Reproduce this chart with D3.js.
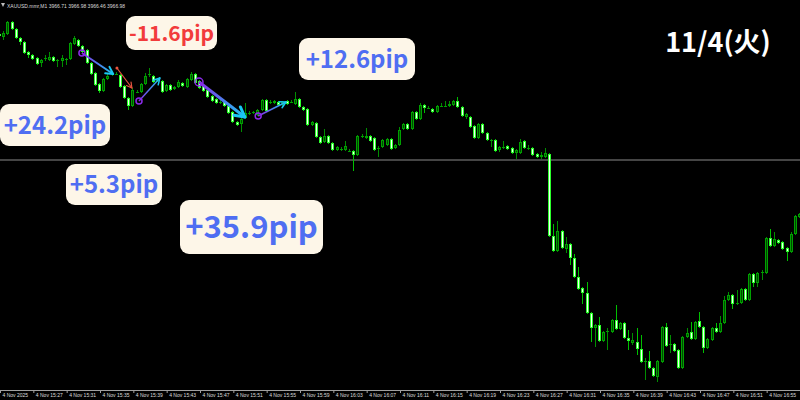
<!DOCTYPE html>
<html>
<head>
<meta charset="utf-8">
<script src="https://cdn.jsdelivr.net/npm/d3@7"></script>
<style>
    html, body { margin: 0; padding: 0; background: #000; overflow: hidden; }
    svg { display: block; }
</style>
</head>
<body>
<div id="chart"></div>
<script>
// XAUUSD 30s bars, 4 Nov
var opens = [
    3986.6, 3986.3, 3986.6, 3987.8, 3987.1, 3986.2, 3985.8, 3984.8, 3984.5, 3984.2,
    3983.7, 3984.1, 3984.0, 3984.3, 3984.0, 3983.9, 3984.1, 3984.1, 3985.6, 3986.0,
    3985.4, 3985.0, 3983.7, 3982.7, 3981.6, 3980.9, 3982.1, 3982.5, 3982.6, 3982.5,
    3981.4, 3980.2, 3979.4, 3980.8, 3980.8, 3981.6, 3982.6, 3982.4, 3982.0, 3981.9,
    3980.9, 3981.5, 3981.1, 3981.3, 3981.7, 3981.3, 3982.0, 3982.6, 3981.9, 3981.4,
    3981.0, 3980.4, 3980.1, 3979.8, 3979.9, 3979.4, 3978.8, 3977.8, 3977.6, 3978.2,
    3978.7, 3978.7, 3978.5, 3979.0, 3980.0, 3979.8, 3979.7, 3979.8, 3979.5, 3979.9,
    3979.8, 3979.6, 3980.1, 3979.3, 3979.1, 3977.5, 3977.7, 3976.3, 3975.8, 3976.4,
    3975.7, 3975.0, 3975.1, 3975.0, 3974.9, 3974.9, 3974.5, 3976.4, 3976.2, 3976.4,
    3976.2, 3975.2, 3975.3, 3975.5, 3976.1, 3975.2, 3975.5, 3977.1, 3977.6, 3977.1,
    3978.8, 3978.1, 3979.5, 3979.2, 3979.1, 3978.8, 3979.4, 3979.4, 3979.4, 3979.5,
    3979.9, 3979.3, 3978.3, 3978.3, 3977.4, 3976.2, 3977.6, 3976.7, 3976.0, 3976.0,
    3975.0, 3975.3, 3975.4, 3975.2, 3974.7, 3974.7, 3975.9, 3975.2, 3975.2, 3974.6,
    3974.3, 3974.3, 3974.6, 3966.4, 3964.9, 3966.9, 3965.1, 3965.6, 3964.2, 3962.3,
    3961.2, 3960.7, 3958.7, 3957.2, 3957.5, 3955.9, 3956.9, 3956.8, 3958.0, 3957.1,
    3957.7, 3956.2, 3955.7, 3955.8, 3955.1, 3953.8, 3953.9, 3953.2, 3952.3, 3953.8,
    3957.3, 3955.5, 3955.6, 3955.0, 3953.2, 3956.3, 3956.8, 3956.1, 3957.9, 3957.3,
    3955.2, 3956.0, 3957.2, 3956.8, 3957.7, 3960.0, 3960.5, 3959.6, 3959.7, 3961.1,
    3960.0, 3962.6, 3961.7, 3962.8, 3962.7, 3966.2, 3965.4, 3966.0, 3965.8, 3965.2,
    3964.8, 3966.6, 3968.3
];
var highs = [
    3986.7, 3986.9, 3987.9, 3987.9, 3987.2, 3986.3, 3985.9, 3984.9, 3984.6, 3984.3,
    3984.1, 3984.5, 3984.8, 3984.4, 3984.1, 3984.5, 3984.2, 3985.8, 3986.4, 3986.1,
    3985.5, 3985.1, 3983.8, 3982.8, 3981.7, 3982.2, 3982.7, 3982.8, 3982.8, 3982.6,
    3981.5, 3980.3, 3981.2, 3981.0, 3981.7, 3982.7, 3983.2, 3982.5, 3982.1, 3982.0,
    3981.6, 3981.6, 3981.4, 3982.0, 3981.8, 3982.2, 3982.8, 3982.7, 3982.0, 3981.5,
    3981.1, 3980.5, 3980.2, 3980.0, 3980.0, 3979.5, 3978.9, 3977.9, 3978.2, 3979.7,
    3978.9, 3978.9, 3979.1, 3980.1, 3980.1, 3980.0, 3980.0, 3979.9, 3979.9, 3980.0,
    3980.0, 3980.8, 3980.2, 3979.4, 3979.2, 3977.9, 3977.8, 3976.4, 3977.1, 3976.5,
    3975.8, 3975.4, 3975.3, 3975.9, 3975.1, 3975.0, 3976.5, 3976.6, 3977.2, 3976.5,
    3976.3, 3975.4, 3976.1, 3976.2, 3976.2, 3975.6, 3977.3, 3977.7, 3977.7, 3978.9,
    3978.9, 3979.7, 3979.6, 3979.4, 3979.2, 3979.5, 3979.7, 3979.9, 3979.9, 3980.0,
    3980.3, 3979.4, 3978.7, 3978.4, 3977.5, 3977.7, 3977.7, 3976.8, 3976.1, 3976.1,
    3975.4, 3975.9, 3975.5, 3975.3, 3975.1, 3976.1, 3976.0, 3975.5, 3975.3, 3974.7,
    3974.8, 3975.2, 3974.7, 3967.6, 3967.9, 3967.0, 3966.3, 3965.7, 3964.6, 3963.3,
    3961.3, 3961.8, 3958.8, 3957.6, 3958.3, 3956.9, 3957.2, 3958.1, 3959.5, 3957.8,
    3957.8, 3957.0, 3956.7, 3957.2, 3956.5, 3954.2, 3954.9, 3953.3, 3954.0, 3957.4,
    3957.7, 3956.5, 3955.7, 3955.1, 3956.4, 3957.2, 3957.8, 3957.9, 3958.8, 3957.4,
    3956.2, 3957.3, 3957.7, 3958.4, 3960.4, 3960.8, 3960.6, 3961.0, 3961.2, 3961.2,
    3962.7, 3962.7, 3962.8, 3963.0, 3966.3, 3967.1, 3966.8, 3966.1, 3965.9, 3965.3,
    3966.8, 3968.5, 3968.7
];
var lows = [
    3986.2, 3986.0, 3986.5, 3987.0, 3986.1, 3985.5, 3984.6, 3984.2, 3984.0, 3983.5,
    3983.3, 3983.9, 3983.9, 3983.8, 3983.3, 3983.3, 3983.5, 3984.0, 3985.5, 3985.3,
    3984.7, 3983.6, 3982.5, 3981.4, 3980.7, 3980.8, 3982.0, 3982.4, 3982.5, 3981.2,
    3980.1, 3979.0, 3979.3, 3980.7, 3980.7, 3981.5, 3982.3, 3981.7, 3981.8, 3980.7,
    3980.8, 3980.9, 3981.0, 3981.2, 3981.3, 3981.2, 3981.9, 3981.6, 3981.1, 3980.8,
    3980.2, 3979.8, 3979.6, 3979.6, 3979.3, 3978.6, 3977.7, 3977.4, 3976.8, 3978.1,
    3978.5, 3978.6, 3978.4, 3978.9, 3978.8, 3979.6, 3979.6, 3979.4, 3979.4, 3979.5,
    3979.7, 3979.5, 3979.2, 3978.9, 3977.4, 3977.4, 3976.2, 3975.6, 3975.7, 3975.6,
    3974.9, 3974.9, 3974.9, 3974.9, 3974.8, 3972.9, 3974.4, 3976.2, 3976.1, 3975.8,
    3974.9, 3974.3, 3975.2, 3975.4, 3975.0, 3975.1, 3975.4, 3977.0, 3977.0, 3977.0,
    3978.0, 3978.0, 3978.7, 3979.1, 3978.7, 3978.7, 3979.3, 3979.3, 3979.3, 3979.4,
    3979.2, 3978.3, 3978.1, 3977.2, 3976.1, 3976.1, 3976.6, 3975.9, 3975.3, 3974.8,
    3974.8, 3975.1, 3975.0, 3974.6, 3974.1, 3974.6, 3975.1, 3975.0, 3974.4, 3974.2,
    3974.1, 3974.2, 3966.3, 3964.8, 3964.8, 3965.1, 3964.7, 3963.5, 3962.2, 3961.0,
    3959.6, 3958.6, 3955.8, 3955.3, 3955.8, 3955.8, 3955.0, 3956.7, 3957.0, 3957.0,
    3956.1, 3955.0, 3955.5, 3954.5, 3953.7, 3952.0, 3953.1, 3952.3, 3951.8, 3953.7,
    3955.3, 3954.7, 3954.8, 3953.1, 3953.1, 3956.2, 3956.0, 3956.0, 3957.2, 3954.7,
    3955.1, 3955.9, 3956.7, 3956.7, 3957.6, 3959.9, 3959.1, 3959.5, 3959.6, 3959.9,
    3959.9, 3961.3, 3961.3, 3962.0, 3962.6, 3965.3, 3965.3, 3965.6, 3965.0, 3963.9,
    3964.7, 3966.5, 3968.2
];
var closes = [
    3986.4, 3986.7, 3987.8, 3987.1, 3986.2, 3985.8, 3984.7, 3984.5, 3984.1, 3983.6,
    3984.0, 3984.2, 3984.3, 3983.9, 3984.0, 3984.2, 3984.1, 3985.7, 3986.2, 3985.4,
    3984.8, 3983.7, 3982.6, 3981.5, 3980.9, 3982.1, 3982.4, 3982.7, 3982.6, 3981.3,
    3980.2, 3979.4, 3981.0, 3980.8, 3981.6, 3982.4, 3982.6, 3981.8, 3982.0, 3980.8,
    3981.5, 3981.0, 3981.3, 3981.8, 3981.4, 3982.1, 3982.6, 3981.7, 3981.2, 3980.9,
    3980.3, 3979.9, 3979.7, 3979.8, 3979.4, 3978.7, 3977.8, 3977.5, 3978.1, 3978.7,
    3978.7, 3978.8, 3979.0, 3980.0, 3978.9, 3979.8, 3979.9, 3979.5, 3979.8, 3979.6,
    3979.8, 3980.1, 3979.3, 3979.0, 3977.5, 3977.8, 3976.3, 3975.7, 3976.4, 3975.7,
    3975.0, 3975.3, 3975.1, 3975.4, 3974.9, 3974.5, 3976.4, 3976.4, 3976.4, 3975.9,
    3975.0, 3975.2, 3976.0, 3976.1, 3975.1, 3975.5, 3977.0, 3977.6, 3977.1, 3978.8,
    3978.1, 3979.5, 3979.2, 3979.2, 3978.8, 3979.4, 3979.4, 3979.4, 3979.6, 3979.9,
    3979.3, 3978.4, 3978.6, 3977.3, 3976.2, 3977.6, 3976.7, 3976.0, 3976.0, 3974.9,
    3975.3, 3975.3, 3975.1, 3974.7, 3975.0, 3975.8, 3975.2, 3975.2, 3974.5, 3974.3,
    3974.5, 3974.7, 3966.4, 3964.9, 3966.9, 3965.2, 3965.6, 3964.2, 3962.3, 3961.1,
    3960.7, 3958.7, 3957.2, 3957.5, 3955.9, 3956.8, 3956.9, 3958.0, 3957.1, 3957.7,
    3956.2, 3955.9, 3956.0, 3955.1, 3953.8, 3953.9, 3953.2, 3952.4, 3953.9, 3957.3,
    3955.4, 3955.6, 3954.9, 3953.2, 3956.3, 3956.7, 3956.1, 3957.8, 3957.3, 3955.2,
    3956.1, 3957.2, 3956.8, 3957.7, 3960.0, 3960.5, 3959.6, 3959.7, 3961.1, 3960.0,
    3962.6, 3961.7, 3962.7, 3962.8, 3966.2, 3965.4, 3966.1, 3965.7, 3965.1, 3964.8,
    3966.6, 3968.4, 3968.6
];

var tickLabels = ["4 Nov 2025", "4 Nov 15:27", "4 Nov 15:31", "4 Nov 15:35", "4 Nov 15:39",
    "4 Nov 15:43", "4 Nov 15:47", "4 Nov 15:51", "4 Nov 15:55", "4 Nov 15:59", "4 Nov 16:03",
    "4 Nov 16:07", "4 Nov 16:11", "4 Nov 16:15", "4 Nov 16:19", "4 Nov 16:23", "4 Nov 16:27",
    "4 Nov 16:31", "4 Nov 16:35", "4 Nov 16:39", "4 Nov 16:43", "4 Nov 16:47", "4 Nov 16:51",
    "4 Nov 16:55"];

var headerText = "XAUUSD.mmr,M1  3966.71 3966.98 3966.46 3966.98";
var priceLine = 3974.0;

// trades: [bar index, price] entry -> exit
var tradeFrom = [[19.9, 3984.7], [28.3, 3983.2], [33.6, 3979.9], [48.0, 3981.8], [62.2, 3978.4]];
var tradeTo = [[27.4, 3982.6], [31.9, 3981.2], [38.6, 3982.2], [59.0, 3978.3], [68.9, 3979.8]];
var tradeLoss = [false, true, false, false, false];

var pipLabels = ["+24.2pip", "-11.6pip", "+5.3pip", "+35.9pip", "+12.6pip"];
var dateLabel = "11/4(火)";

function renderChart() {
    var width = 800,
        height = 400,
        axisY = 390;

    var svg = d3.select("#chart")
        .append("svg")
        .attr("width", width)
        .attr("height", height);

    svg.append("rect")
        .attr("width", width)
        .attr("height", height)
        .attr("fill", "#000");

    var x = d3.scaleLinear().domain([0, 192]).range([-1, 799]);
    var y = d3.scaleLinear().domain([3951, 3990]).range([axisY, 0]);
    var xTime = d3.scaleLinear().domain([0, 24]).range([0, 800]);

    var defs = svg.append("defs");

    // horizontal price line
    svg.append("line")
        .attr("x1", 0)
        .attr("x2", width)
        .attr("y1", Math.round(y(priceLine)))
        .attr("y2", Math.round(y(priceLine)))
        .attr("stroke", "#454545")
        .attr("stroke-width", 2);

    // candles
    var bars = d3.range(opens.length).map(function(i) {
        return { i: i, o: opens[i], h: highs[i], l: lows[i], c: closes[i] };
    });

    var candle = svg.append("g").selectAll("g")
        .data(bars)
        .enter()
        .append("g");

    candle.append("line")
        .attr("x1", function(d) { return Math.round(x(d.i)) + 0.5; })
        .attr("x2", function(d) { return Math.round(x(d.i)) + 0.5; })
        .attr("y1", function(d) { return Math.round(y(d.h)); })
        .attr("y2", function(d) { return Math.round(y(d.l)); })
        .attr("stroke", function(d) { return d.c < d.o ? "#00c000" : "#008e00"; })
        .attr("stroke-width", 1);

    function bodyTop(d) { return Math.round(y(Math.max(d.o, d.c))); }
    function bodyH(d) { return Math.max(1, Math.round(y(Math.min(d.o, d.c))) - bodyTop(d)); }

    candle.append("rect")
        .attr("x", function(d) { return Math.round(x(d.i)) - 1; })
        .attr("y", bodyTop)
        .attr("width", 3)
        .attr("height", bodyH)
        .attr("fill", function(d) { return d.c < d.o ? "#2cff2c" : "#00a000"; });

    candle.filter(function(d) { return bodyH(d) > 2; })
        .append("rect")
        .attr("x", function(d) { return Math.round(x(d.i)); })
        .attr("y", function(d) { return bodyTop(d) + 1; })
        .attr("width", 1)
        .attr("height", function(d) { return bodyH(d) - 2; })
        .attr("fill", function(d) { return d.c < d.o ? "#f2fff2" : "#004800"; });

    // time axis
    var axis = svg.append("g")
        .attr("transform", "translate(0," + axisY + ")")
        .call(d3.axisBottom(xTime)
            .tickValues(d3.range(24))
            .tickFormat(function(i) { return tickLabels[i]; })
            .tickSize(3)
            .tickSizeOuter(0));
    axis.select(".domain").attr("stroke", "#a0a0a0");
    axis.selectAll(".tick line").attr("stroke", "#a0a0a0");
    axis.selectAll(".tick text")
        .attr("fill", "#dcdcdc")
        .attr("x", 2)
        .attr("y", 3)
        .style("text-anchor", "start")
        .style("font-family", "'Liberation Sans', sans-serif")
        .style("font-size", "5px");

    // header
    svg.append("path")
        .attr("d", "M1,3 L5,3 L3,7 Z")
        .attr("fill", "#bbb");
    svg.append("text")
        .attr("x", 7)
        .attr("y", 7.5)
        .attr("fill", "#dcdcdc")
        .style("font-family", "'Liberation Sans', sans-serif")
        .style("font-size", "5px")
        .text(headerText);

    // trade arrows
    var tradeWidths = [2, 1.2, 1.5, 3, 1.5],
        headLen = [8, 6, 7, 11, 7];

    tradeFrom.forEach(function(f, k) {
        var x1 = x(f[0]), y1 = y(f[1]),
            x2 = x(tradeTo[k][0]), y2 = y(tradeTo[k][1]);
        var stroke, headColor;
        if (tradeLoss[k]) {
            stroke = headColor = "#e8553f";
        } else {
            var g = defs.append("linearGradient")
                .attr("id", "tg" + k)
                .attr("gradientUnits", "userSpaceOnUse")
                .attr("x1", x1).attr("y1", y1)
                .attr("x2", x2).attr("y2", y2);
            g.append("stop").attr("offset", "0%").attr("stop-color", "#8a2be8");
            g.append("stop").attr("offset", "100%").attr("stop-color", "#19c8f2");
            stroke = "url(#tg" + k + ")";
            headColor = "#19c8f2";
        }
        svg.append("line")
            .attr("x1", x1).attr("y1", y1)
            .attr("x2", x2).attr("y2", y2)
            .attr("stroke", stroke)
            .attr("stroke-width", tradeWidths[k]);

        var ang = Math.atan2(y2 - y1, x2 - x1);
        [-1, 1].forEach(function(s) {
            var a = ang + Math.PI + s * 0.5;
            svg.append("line")
                .attr("x1", x2).attr("y1", y2)
                .attr("x2", x2 + headLen[k] * Math.cos(a))
                .attr("y2", y2 + headLen[k] * Math.sin(a))
                .attr("stroke", headColor)
                .attr("stroke-width", tradeWidths[k])
                .attr("stroke-linecap", "round");
        });

        if (tradeLoss[k]) {
            svg.append("circle").attr("cx", x1).attr("cy", y1).attr("r", 1.5).attr("fill", "#e8553f");
        } else {
            svg.append("circle")
                .attr("cx", x1).attr("cy", y1)
                .attr("r", tradeWidths[k] > 2 ? 4 : 3)
                .attr("fill", "none")
                .attr("stroke", "#8a2be8")
                .attr("stroke-width", 1.5);
        }
    });

    // pip result boxes
    var boxes = [
        { x: 0, y: 104, w: 110, h: 42, size: 24 },
        { x: 126, y: 16, w: 91, h: 34, size: 21 },
        { x: 66, y: 164, w: 96, h: 41, size: 24 },
        { x: 180, y: 200, w: 143, h: 54, size: 31 },
        { x: 299, y: 38, w: 116, h: 42, size: 24 }
    ];

    boxes.forEach(function(b, k) {
        svg.append("rect")
            .attr("x", b.x).attr("y", b.y)
            .attr("width", b.w).attr("height", b.h)
            .attr("rx", 9)
            .attr("fill", "#fdf6e8");
        svg.append("text")
            .attr("x", b.x + b.w / 2)
            .attr("y", b.y + b.h / 2 + b.size * 0.36)
            .attr("text-anchor", "middle")
            .attr("fill", pipLabels[k].charAt(0) == "-" ? "#f23b3b" : "#4f6ef2")
            .style("font-family", "'Noto Sans CJK JP', 'Noto Sans', sans-serif")
            .style("font-weight", "700")
            .style("font-size", b.size + "px")
            .text(pipLabels[k]);
    });

    svg.append("text")
        .attr("x", 718)
        .attr("y", 52)
        .attr("text-anchor", "middle")
        .attr("fill", "#ffffff")
        .style("font-family", "'Noto Sans CJK JP', sans-serif")
        .style("font-weight", "700")
        .style("font-size", "27px")
        .text(dateLabel);
}

renderChart();
</script>
</body>
</html>
